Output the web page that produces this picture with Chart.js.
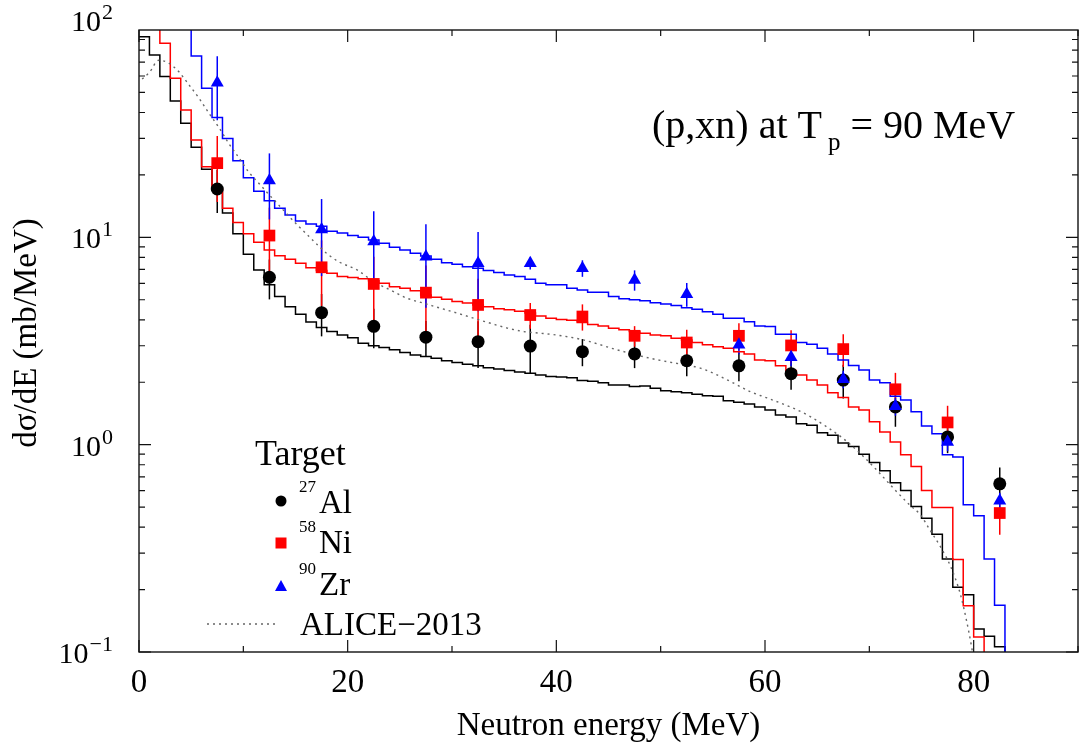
<!DOCTYPE html>
<html><head><meta charset="utf-8">
<script src="https://cdn.jsdelivr.net/npm/chart.js@4"></script>
<style>html,body{margin:0;padding:0;background:#fff;}canvas{display:block;}</style>
</head><body>
<canvas id="c" width="1081" height="747"></canvas>
<script>
// ---------- data ----------
const energies = [7.5, 12.5, 17.5, 22.5, 27.5, 32.5, 37.5, 42.5, 47.5, 52.5, 57.5, 62.5, 67.5, 72.5, 77.5, 82.5];
const alVal = [17.1, 6.42, 4.33, 3.72, 3.30, 3.14, 2.99, 2.81, 2.74, 2.54, 2.40, 2.20, 2.05, 1.52, 1.09, 0.647];
const alErr = [4.0, 1.4, 1.0, 0.8, 0.65, 0.8, 0.8, 0.42, 0.4, 0.4, 0.38, 0.36, 0.38, 0.3, 0.18, 0.13];
const niVal = [22.8, 10.2, 7.17, 5.96, 5.41, 4.72, 4.22, 4.15, 3.35, 3.11, 3.35, 3.01, 2.89, 1.85, 1.28, 0.468];
const niErr = [8.0, 3.7, 2.5, 2.1, 1.9, 1.6, 0.6, 0.6, 0.38, 0.47, 0.5, 0.55, 0.52, 0.37, 0.26, 0.1];
const zrVal = [55.7, 18.8, 10.9, 9.55, 8.07, 7.5, 7.5, 7.10, 6.23, 5.32, 3.03, 2.64, 2.07, 1.53, 1.03, 0.537];
const zrErr = [19, 6.6, 4.4, 3.8, 3.5, 3.1, 0.5, 0.65, 0.7, 0.7, 0.3, 0.25, 0.2, 0.15, 0.1, 0.05];

// calculated spectra, 1-MeV bins starting at 0 MeV
const alHist = [92.9, 75.8, 59.6, 45.4, 35.5, 27.2, 21.3, 16.9, 13.1, 10.4,
  8.28, 6.96, 5.90, 5.18, 4.63, 4.26, 3.90, 3.67, 3.51, 3.38,
  3.28, 3.08, 3.00, 2.94, 2.87, 2.78, 2.71, 2.66, 2.61, 2.54,
  2.49, 2.44, 2.40, 2.35, 2.32, 2.28, 2.24, 2.21, 2.17, 2.13,
  2.12, 2.10, 2.04, 2.02, 1.99, 1.94, 1.94, 1.91, 1.92, 1.87,
  1.82, 1.80, 1.78, 1.75, 1.72, 1.71, 1.63, 1.60, 1.57, 1.52,
  1.47, 1.39, 1.36, 1.26, 1.24, 1.14, 1.11, 1.02, 0.98, 0.90,
  0.82, 0.748, 0.656, 0.601, 0.503, 0.442, 0.370, 0.281, 0.205, 0.189,
  0.129, 0.119, 0.106, 0.03];
const niHist = [140, 115, 86.3, 58.5, 41.1, 29.5, 21.9, 17.1, 13.8, 11.8,
  10.4, 9.47, 8.69, 8.16, 7.84, 7.50, 7.14, 6.91, 6.71, 6.47,
  6.40, 6.32, 6.18, 6.01, 5.78, 5.68, 5.53, 5.27, 5.14, 5.03,
  4.90, 4.82, 4.72, 4.63, 4.53, 4.47, 4.40, 4.31, 4.18, 4.07,
  4.02, 3.98, 3.88, 3.80, 3.74, 3.64, 3.58, 3.51, 3.45, 3.38,
  3.35, 3.26, 3.20, 3.11, 3.03, 2.97, 2.92, 2.81, 2.74, 2.56,
  2.54, 2.40, 2.28, 2.17, 2.05, 1.94, 1.78, 1.69, 1.52, 1.47,
  1.29, 1.15, 1.03, 0.893, 0.785, 0.601, 0.498, 0.498, 0.279, 0.167,
  0.118, 0.03];
const zrHist = [400, 300, 220, 160, 120, 75.0, 52.3, 37.8, 30.0, 23.4,
  19.4, 16.7, 15.0, 13.8, 12.8, 12.0, 11.6, 11.3, 10.7, 10.5,
  10.2, 10.0, 9.71, 9.37, 8.96, 8.69, 8.38, 8.13, 7.84, 7.55,
  7.42, 7.22, 7.09, 6.91, 6.76, 6.59, 6.47, 6.28, 6.01, 5.90,
  5.90, 5.68, 5.57, 5.43, 5.43, 5.18, 5.05, 5.00, 4.95, 4.84,
  4.77, 4.69, 4.58, 4.50, 4.38, 4.26, 4.07, 4.07, 3.92, 3.74,
  3.71, 3.41, 3.41, 3.11, 3.05, 2.92, 2.74, 2.56, 2.41, 2.29,
  2.05, 1.99, 1.71, 1.64, 1.44, 1.23, 1.13, 0.893, 0.871, 0.513,
  0.454, 0.281, 0.168, 0.03];

// ALICE-2013 calculation
const aliceE = [0.3, 1.0, 1.9, 2.9, 3.8, 4.8, 5.75, 6.7, 7.7, 8.6, 9.6, 10.5, 11.5, 12.5, 13.4, 14.4,
  15.3, 16.3, 17.3, 18.2, 19.2, 20.9, 22.5, 24.1, 25.7, 27.3, 28.9, 30.5, 32.1, 33.7, 35.3, 36.9,
  38.4, 40.0, 42.6, 45.8, 49.0, 52.2, 53.8, 55.4, 57.0, 58.6, 60.2, 62.7, 64.3, 65.9, 67.5, 69.1,
  70.7, 72.3, 73.9, 74.9, 75.8, 76.8, 77.8, 78.7, 79.3, 79.8, 80.2];
const aliceV = [58, 62.5, 71.5, 69, 63, 54.3, 46.9, 39.7, 33.6, 28.4, 24.1, 20.7, 18.2, 16.0, 14.3, 12.6,
  11.3, 10.1, 9.0, 8.2, 7.6, 6.96, 6.11, 5.57, 5.08, 4.81, 4.55, 4.31, 4.07, 3.85, 3.65, 3.51,
  3.45, 3.38, 3.20, 2.87, 2.61, 2.43, 2.34, 2.17, 1.98, 1.80, 1.68, 1.50, 1.37, 1.22, 1.07, 0.91,
  0.755, 0.617, 0.51, 0.459, 0.388, 0.323, 0.258, 0.192, 0.143, 0.106, 0.08];

const xTicks = [0, 20, 40, 60, 80];
const yDecades = [-1, 0, 1, 2];

// ---------- helpers ----------
const FONT = '"Liberation Serif", "Times New Roman", Times, serif';
const BLACK = '#000000', RED = '#ff0000', BLUE = '#0000ff';
function hist(vals) {
  const d = vals.map((v, i) => ({ x: i, y: v }));
  d.push({ x: vals.length, y: vals[vals.length - 1] });
  return d;
}
function pts(vals) { return energies.map((e, i) => ({ x: e, y: vals[i] })); }

function histDs(vals, color) {
  return { data: hist(vals), showLine: true, stepped: 'before', borderColor: color, borderWidth: 1.5,
           pointRadius: 0, fill: false, tension: 0 };
}
function markDs(vals, errs, color, style, r) {
  return { data: pts(vals), errors: errs, errColor: color, showLine: false, pointStyle: style,
           pointRadius: r, pointBackgroundColor: color, pointBorderColor: color, pointBorderWidth: 0 };
}

const errorBars = {
  id: 'errorBars',
  beforeDatasetsDraw(chart) {
    const { ctx, chartArea: a } = chart;
    const xs = chart.scales.x, ys = chart.scales.y;
    ctx.save();
    ctx.beginPath(); ctx.rect(a.left, a.top, a.right - a.left, a.bottom - a.top); ctx.clip();
    ctx.lineWidth = 1.5;
    chart.data.datasets.slice().reverse().forEach(ds => {
      if (!ds.errors) return;
      ctx.strokeStyle = ds.errColor;
      ds.data.forEach((p, i) => {
        const e = ds.errors[i];
        const px = xs.getPixelForValue(p.x);
        ctx.beginPath();
        ctx.moveTo(px, ys.getPixelForValue(Math.max(p.y - e, 0.01)));
        ctx.lineTo(px, ys.getPixelForValue(p.y + e));
        ctx.stroke();
      });
    });
    ctx.restore();
  }
};

const frame = {
  id: 'frame',
  afterDraw(chart) {
    const { ctx, chartArea: a } = chart;
    const xs = chart.scales.x, ys = chart.scales.y;
    ctx.save();
    ctx.strokeStyle = '#111'; ctx.lineWidth = 1.4;
    ctx.strokeRect(a.left, a.top, a.right - a.left, a.bottom - a.top);
    ctx.lineWidth = 1.2;
    ctx.beginPath();
    for (let v = 0; v <= 90; v += 10) {
      const px = xs.getPixelForValue(v);
      const len = v % 20 === 0 ? 12 : 6;
      ctx.moveTo(px, a.bottom); ctx.lineTo(px, a.bottom - len);
      ctx.moveTo(px, a.top); ctx.lineTo(px, a.top + len);
    }
    for (let e = -1; e <= 1; e++) {
      for (let m = 1; m <= 9; m++) {
        const py = ys.getPixelForValue(m * Math.pow(10, e));
        const len = m === 1 ? 12 : 6;
        ctx.moveTo(a.left, py); ctx.lineTo(a.left + len, py);
        ctx.moveTo(a.right, py); ctx.lineTo(a.right - len, py);
      }
    }
    ctx.stroke();

    ctx.fillStyle = '#000';
    // x tick labels
    ctx.font = '33px ' + FONT; ctx.textAlign = 'center'; ctx.textBaseline = 'alphabetic';
    xTicks.forEach(v => ctx.fillText(String(v), xs.getPixelForValue(v), 692));
    // y tick labels 10^n
    yDecades.forEach(e => {
      let py = ys.getPixelForValue(Math.pow(10, e));
      if (e === 2) py -= 10;
      const ex = e < 0 ? '\u2212' + (-e) : String(e);
      ctx.font = '22px ' + FONT; ctx.textAlign = 'left';
      const ew = ctx.measureText(ex).width;
      const R = 113;
      ctx.fillText(ex, R - ew, py - 1);
      ctx.font = '30px ' + FONT; ctx.textAlign = 'right';
      ctx.fillText('10', R - ew - 1, py + 11);
    });
    // axis titles
    ctx.font = '33px ' + FONT; ctx.textAlign = 'center';
    ctx.fillText('Neutron energy (MeV)', (a.left + a.right) / 2, 735);
    ctx.save();
    ctx.translate(36, (a.top + a.bottom) / 2 - 8);
    ctx.rotate(-Math.PI / 2);
    ctx.fillText('d\u03c3/dE (mb/MeV)', 0, 0);
    ctx.restore();

    // reaction title
    ctx.textAlign = 'left';
    ctx.font = '40px ' + FONT;
    let tx = 652;
    const t1 = '(p,xn) at T';
    ctx.fillText(t1, tx, 138); tx += ctx.measureText(t1).width + 6;
    ctx.font = '25px ' + FONT;
    ctx.fillText('p', tx, 150); tx += ctx.measureText('p').width;
    ctx.font = '40px ' + FONT;
    ctx.fillText(' = 90 MeV', tx, 138);

    // legend
    ctx.font = '36px ' + FONT;
    ctx.fillText('Target', 255, 465);
    const entries = [
      { sup: '27', name: 'Al', y: 513, my: 501, color: BLACK, style: 'circle' },
      { sup: '58', name: 'Ni', y: 553, my: 543, color: RED, style: 'square' },
      { sup: '90', name: 'Zr', y: 595, my: 586, color: BLUE, style: 'triangle' }
    ];
    entries.forEach(en => {
      ctx.fillStyle = en.color;
      ctx.beginPath();
      if (en.style === 'circle') { ctx.arc(281, en.my, 5.5, 0, Math.PI * 2); }
      else if (en.style === 'square') { ctx.rect(275.5, en.my - 5.5, 11, 11); }
      else { ctx.moveTo(281, en.my - 6); ctx.lineTo(287, en.my + 5); ctx.lineTo(275, en.my + 5); ctx.closePath(); }
      ctx.fill();
      ctx.fillStyle = '#000';
      ctx.font = '17px ' + FONT;
      ctx.fillText(en.sup, 299, en.y - 21);
      ctx.font = '33px ' + FONT;
      ctx.fillText(en.name, 319, en.y);
    });
    ctx.strokeStyle = '#666'; ctx.lineWidth = 1.3; ctx.setLineDash([2, 4]);
    ctx.beginPath(); ctx.moveTo(207, 624); ctx.lineTo(277, 624); ctx.stroke();
    ctx.setLineDash([]);
    ctx.font = '33px ' + FONT;
    ctx.fillText('ALICE\u22122013', 300, 635);
    ctx.restore();
  }
};

new Chart(document.getElementById('c'), {
  type: 'line',
  data: {
    datasets: [
      markDs(zrVal, zrErr, BLUE, 'triangle', 7.5),
      markDs(niVal, niErr, RED, 'rect', 8.3),
      markDs(alVal, alErr, BLACK, 'circle', 6.5),
      { data: aliceE.map((e, i) => ({ x: e, y: aliceV[i] })), showLine: true, borderColor: '#666',
        borderWidth: 1.4, borderDash: [2, 4], pointRadius: 0, cubicInterpolationMode: 'monotone', fill: false },
      histDs(zrHist, BLUE),
      histDs(niHist, RED),
      histDs(alHist, BLACK)
    ]
  },
  options: {
    responsive: false, animation: false, events: [],
    layout: { autoPadding: false, padding: { left: 139, right: 3, top: 30, bottom: 95 } },
    scales: {
      x: { type: 'linear', min: 0, max: 90, display: false },
      y: { type: 'logarithmic', min: 0.1, max: 100, display: false }
    },
    plugins: { legend: { display: false }, tooltip: { enabled: false } }
  },
  plugins: [errorBars, frame]
});
</script>
</body></html>
